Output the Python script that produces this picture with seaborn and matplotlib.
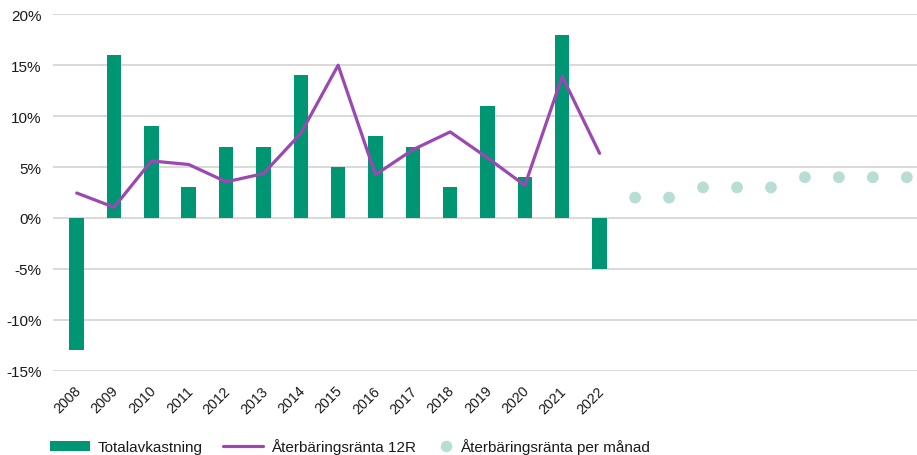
import numpy as np
import pandas as pd
import matplotlib
matplotlib.use("Agg")
import matplotlib.pyplot as plt
import matplotlib.transforms as mtransforms
from matplotlib.patches import Patch
from matplotlib.lines import Line2D
import seaborn as sns

# ---- data ----
years = ["2008", "2009", "2010", "2011", "2012", "2013", "2014", "2015",
         "2016", "2017", "2018", "2019", "2020", "2021", "2022"]
total_return = [-13, 16, 9, 3, 7, 7, 14, 5, 8, 7, 3, 11, 4, 18, -5]
rate_12r = [2.45, 1.05, 5.6, 5.25, 3.55, 4.35, 8.3, 15.0, 4.25, 6.7, 8.45, 5.9, 3.2, 13.9, 6.35]
monthly_rate = [2, 2, 3, 3, 3, 4, 4, 4, 4]
months = ["jan", "feb", "mar", "apr", "maj", "jun", "jul", "aug", "sep"]
yticks = [-15, -10, -5, 0, 5, 10, 15, 20]

label_bar = "Totalavkastning"
label_line = "Återbäringsränta 12R"
label_dot = "Återbäringsränta per månad"

# ---- style ----
sns.set_theme(style="white")
plt.rcParams["font.family"] = ["Liberation Sans", "DejaVu Sans"]
plt.rcParams["font.size"] = 11

GREEN = "#009673"
PURPLE = "#9C48B2"
MINT = "#B8DDD4"
GRID = "#D0D0D0"
TEXT = "#1a1a1a"

W, H = 917, 456
fig = plt.figure(figsize=(W / 100, H / 100), dpi=100)
ax = fig.add_axes([52.7 / W, (H - 371.7) / H, 1 - 52.7 / W, (371.7 - 15.3) / H])

df_bar = pd.DataFrame({"year": years, "value": total_return})
df_line = pd.DataFrame({"idx": np.arange(len(years)), "value": rate_12r})

sns.barplot(data=df_bar, x="year", y="value", color=GREEN, width=0.39,
            saturation=1, linewidth=0, edgecolor="none", ax=ax, zorder=3)
sns.lineplot(data=df_line, x="idx", y="value", color=PURPLE, linewidth=2.3,
             ax=ax, zorder=4)

ax.set_xlim(-0.643, 22.50)
ax.set_ylim(-15, 20)
ax.set_yticks(yticks)
ax.set_yticklabels([f"{v}%" for v in yticks])
ax.yaxis.grid(True, color=GRID, linewidth=1.1)
ax.set_axisbelow(True)
ax.set_xlabel("")
ax.set_ylabel("")
for s in ax.spines.values():
    s.set_visible(False)
ax.tick_params(axis="y", length=0, pad=8, labelsize=11, labelcolor=TEXT)
ax.tick_params(axis="x", length=0, pad=9, labelsize=10.3, labelcolor=TEXT)
ax.set_xticks(np.arange(len(years)))
ax.set_xticklabels(years, rotation=45, ha="right")
offset = mtransforms.ScaledTranslation(7 / 100, 0, fig.dpi_scale_trans)
for lab in ax.get_xticklabels():
    lab.set_transform(lab.get_transform() + offset)

# monthly dots on a secondary x scale
ax2 = ax.twiny()
df_dot = pd.DataFrame({"m": np.arange(len(months)), "value": monthly_rate})
sns.scatterplot(data=df_dot, x="m", y="value", color=MINT, s=72,
                edgecolor="none", ax=ax2, zorder=5)
ax2.set_xlim(-17.147, 8.30)
ax2.set_ylim(-15, 20)
ax2.set_xticks([])
ax2.set_xlabel("")
ax2.set_ylabel("")
for s in ax2.spines.values():
    s.set_visible(False)

# legends
h1 = Patch(facecolor=GREEN, edgecolor="none")
h2 = Line2D([], [], color=PURPLE, linewidth=2.3)
leg1 = fig.legend([h1, h2], [label_bar, label_line], loc="center left",
                  bbox_to_anchor=(50 / W, 8.5 / H), ncol=2, frameon=False,
                  handlelength=2.65, handleheight=0.55, handletextpad=0.5,
                  columnspacing=1.3, borderpad=0, borderaxespad=0,
                  fontsize=11)
for t in leg1.get_texts():
    t.set_color(TEXT)
h3 = Line2D([], [], color=MINT, marker="o", linestyle="none", markersize=8.3,
            markeredgewidth=0)
leg2 = fig.legend([h3], [label_dot], loc="center left",
                  bbox_to_anchor=(438 / W, 8.5 / H), frameon=False,
                  handlelength=1.0, handletextpad=0.45, borderpad=0,
                  borderaxespad=0, fontsize=11)
for t in leg2.get_texts():
    t.set_color(TEXT)

fig.savefig("out.png", dpi=100)
